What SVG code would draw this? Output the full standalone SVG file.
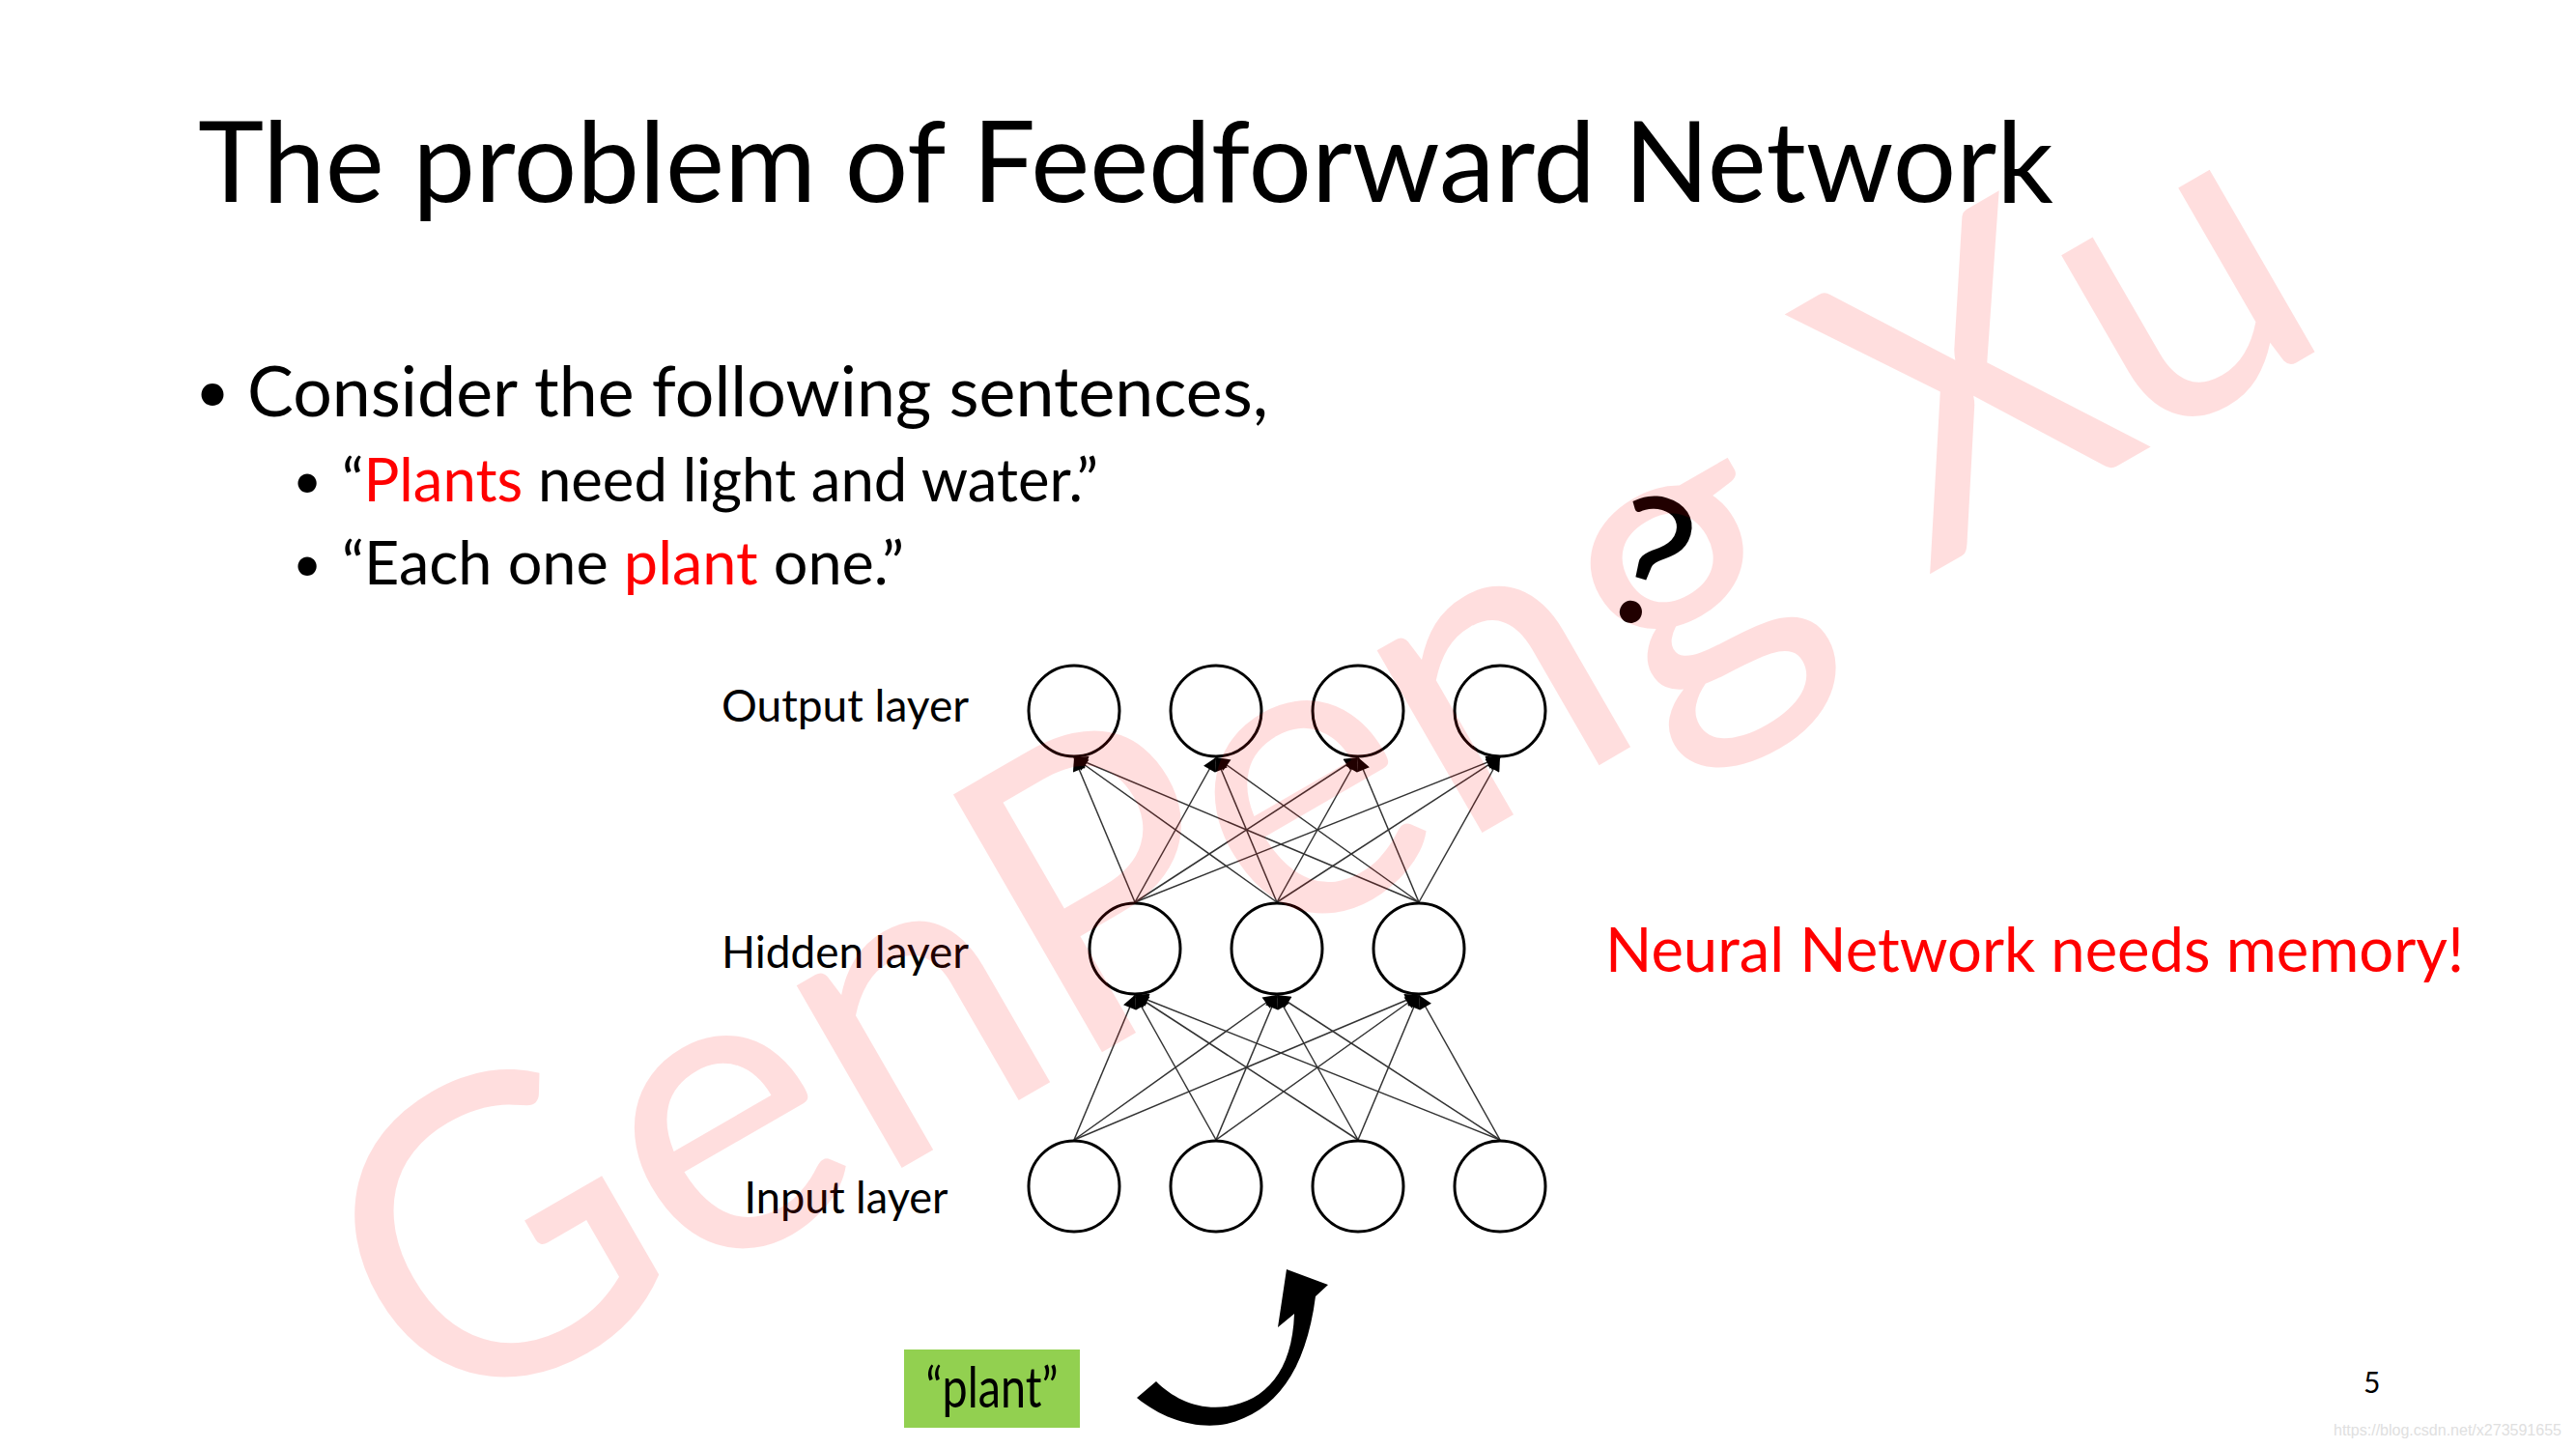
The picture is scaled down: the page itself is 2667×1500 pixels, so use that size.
<svg xmlns="http://www.w3.org/2000/svg" width="2667" height="1500" viewBox="0 0 2667 1500">
<style>
.t{font-family:Lato,"Noto Sans","Liberation Sans",sans-serif;fill:#000}
.r{fill:#ff0000}
.node{fill:#fff;stroke:#000;stroke-width:3}
.edge{stroke:#333;stroke-width:1.5;fill:none;marker-end:url(#ah)}
</style>
<defs>
<marker id="ah" viewBox="0 0 10 10" refX="10" refY="5" markerUnits="userSpaceOnUse" markerWidth="16" markerHeight="14" orient="auto">
<path d="M0,0 L10,5 L0,10 Z" fill="#000"/>
</marker>
</defs>
<rect width="2667" height="1500" fill="#fff"/>
<text class="t" x="205" y="209" font-size="117" textLength="1921" lengthAdjust="spacingAndGlyphs">The problem of Feedforward Network</text>
<text class="t" x="202" y="427" font-size="62">•</text>
<text class="t" x="256" y="431" font-size="72" textLength="1057" lengthAdjust="spacingAndGlyphs">Consider the following sentences,</text>
<text class="t" x="303" y="516" font-size="52">•</text>
<text class="t" x="354" y="519" font-size="61" textLength="783" lengthAdjust="spacingAndGlyphs">“<tspan class="r">Plants</tspan> need light and water.”</text>
<text class="t" x="303" y="602" font-size="52">•</text>
<text class="t" x="354" y="605" font-size="61" textLength="582" lengthAdjust="spacingAndGlyphs">“Each one <tspan class="r">plant</tspan> one.”</text>
<text class="t" x="1708" y="647" font-size="185" text-anchor="middle" transform="rotate(16 1708 581)">?</text>
<g id="labels">
<text class="t" x="875" y="747" font-size="46" text-anchor="middle" textLength="256" lengthAdjust="spacingAndGlyphs">Output layer</text>
<text class="t" x="875" y="1002" font-size="46" text-anchor="middle" textLength="256" lengthAdjust="spacingAndGlyphs">Hidden layer</text>
<text class="t" x="876" y="1256" font-size="46" text-anchor="middle" textLength="211" lengthAdjust="spacingAndGlyphs">Input layer</text>
</g>
<text class="t r" x="1662" y="1006" font-size="63" textLength="889" lengthAdjust="spacingAndGlyphs">Neural Network needs memory!</text>
<g id="connectors">
<line class="edge" x1="1112" y1="1180" x2="1175" y2="1030"/>
<line class="edge" x1="1112" y1="1180" x2="1322" y2="1030"/>
<line class="edge" x1="1112" y1="1180" x2="1469" y2="1030"/>
<line class="edge" x1="1259" y1="1180" x2="1175" y2="1030"/>
<line class="edge" x1="1259" y1="1180" x2="1322" y2="1030"/>
<line class="edge" x1="1259" y1="1180" x2="1469" y2="1030"/>
<line class="edge" x1="1406" y1="1180" x2="1175" y2="1030"/>
<line class="edge" x1="1406" y1="1180" x2="1322" y2="1030"/>
<line class="edge" x1="1406" y1="1180" x2="1469" y2="1030"/>
<line class="edge" x1="1553" y1="1180" x2="1175" y2="1030"/>
<line class="edge" x1="1553" y1="1180" x2="1322" y2="1030"/>
<line class="edge" x1="1553" y1="1180" x2="1469" y2="1030"/>
<line class="edge" x1="1175" y1="934" x2="1112" y2="784"/>
<line class="edge" x1="1175" y1="934" x2="1259" y2="784"/>
<line class="edge" x1="1175" y1="934" x2="1406" y2="784"/>
<line class="edge" x1="1175" y1="934" x2="1553" y2="784"/>
<line class="edge" x1="1322" y1="934" x2="1112" y2="784"/>
<line class="edge" x1="1322" y1="934" x2="1259" y2="784"/>
<line class="edge" x1="1322" y1="934" x2="1406" y2="784"/>
<line class="edge" x1="1322" y1="934" x2="1553" y2="784"/>
<line class="edge" x1="1469" y1="934" x2="1112" y2="784"/>
<line class="edge" x1="1469" y1="934" x2="1259" y2="784"/>
<line class="edge" x1="1469" y1="934" x2="1406" y2="784"/>
<line class="edge" x1="1469" y1="934" x2="1553" y2="784"/>
</g>
<g id="out1"><circle class="node" cx="1112" cy="736" r="47"/></g>
<g id="out2"><circle class="node" cx="1259" cy="736" r="47"/></g>
<g id="out3"><circle class="node" cx="1406" cy="736" r="47"/></g>
<g id="out4"><circle class="node" cx="1553" cy="736" r="47"/></g>
<g id="hid1"><circle class="node" cx="1175" cy="982" r="47"/></g>
<g id="hid2"><circle class="node" cx="1322" cy="982" r="47"/></g>
<g id="hid3"><circle class="node" cx="1469" cy="982" r="47"/></g>
<g id="in1"><circle class="node" cx="1112" cy="1228" r="47"/></g>
<g id="in2"><circle class="node" cx="1259" cy="1228" r="47"/></g>
<g id="in3"><circle class="node" cx="1406" cy="1228" r="47"/></g>
<g id="in4"><circle class="node" cx="1553" cy="1228" r="47"/></g>
<g id="plant">
<rect x="936" y="1397" width="182" height="81" fill="#92d050"/>
<text class="t" x="1027" y="1457" font-size="58" text-anchor="middle" textLength="137" lengthAdjust="spacingAndGlyphs">“plant”</text>
</g>
<path id="curved-arrow" d="M1177,1447 C1205,1470 1240,1480 1270,1474 C1320,1462 1352,1420 1362,1342 L1375,1330 L1332,1314 L1323,1374 L1340,1360 C1338,1420 1310,1450 1270,1456 C1240,1460 1215,1448 1197,1430 Z" fill="#000"/>
<text class="t" x="2447" y="1442" font-size="30">5</text>
<text x="2416" y="1486" font-family="'Liberation Sans',sans-serif" font-size="16" fill="#e0e0e0" textLength="236" lengthAdjust="spacingAndGlyphs">https://blog.csdn.net/x273591655</text>
<text x="452" y="1487" font-family="Lato,'Noto Sans',sans-serif" font-size="430" fill="#ff0000" fill-opacity="0.13" textLength="2275" lengthAdjust="spacingAndGlyphs" transform="rotate(-30 452 1487)">GenPeng Xu</text>
</svg>
